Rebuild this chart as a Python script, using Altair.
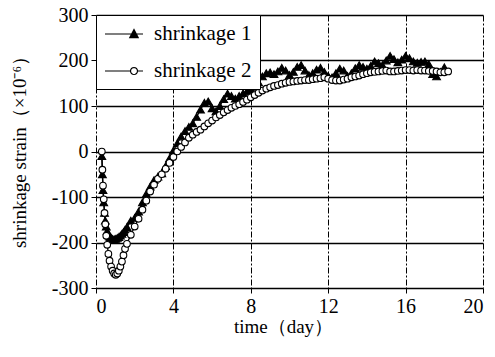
import math
import altair as alt
import pandas as pd

# Shrinkage strain readings (x10^-6) against age in days
t1 = [0.30, 0.33, 0.36, 0.40, 0.44, 0.48, 0.53, 0.58, 0.64, 0.70, 0.78, 0.86, 0.94,
      1.02, 1.10, 1.18, 1.26, 1.34, 1.42, 1.50,
      1.6, 1.8, 2.0, 2.2, 2.4, 2.6, 2.8, 3.0, 3.2, 3.4, 3.6, 3.8, 4.0, 4.2, 4.4, 4.6,
      4.8, 5.0, 5.2, 5.4, 5.6, 5.8, 6.0, 6.2, 6.4, 6.6, 6.8, 7.0, 7.2, 7.4, 7.6, 7.8,
      8.0, 8.2, 8.4, 8.6, 8.8, 9.0, 9.2, 9.4, 9.6, 9.8, 10.0, 10.2, 10.4, 10.6, 10.8,
      11.0, 11.2, 11.4, 11.6, 11.8, 12.0, 12.2, 12.4, 12.6, 12.8, 13.0, 13.2, 13.4,
      13.6, 13.8, 14.0, 14.2, 14.4, 14.6, 14.8, 15.0, 15.2, 15.4, 15.6, 15.8, 16.0,
      16.2, 16.4, 16.6, 16.8, 17.0, 17.2, 17.4, 17.6, 17.8, 18.0]
s1 = [-10, -50, -85, -112, -135, -152, -165, -175, -182, -187, -190, -192, -193,
      -192, -190, -188, -185, -181, -177, -172,
      -166, -152, -146, -132, -112, -93, -77, -63, -55, -48, -32, -15, 2, 18, 33, 45,
      54, 62, 76, 92, 107, 110, 95, 88, 100, 115, 127, 122, 116, 122, 128, 132,
      136, 142, 152, 165, 172, 174, 170, 176, 184, 178, 168, 175, 186, 190, 178,
      168, 172, 180, 184, 175, 166, 163, 172, 182, 178, 166, 172, 183,
      190, 186, 182, 188, 198, 194, 190, 200, 210, 203, 196, 202, 210,
      205, 198, 195, 197, 198, 192, 170, 165, 175, 185]

t2 = [0.30, 0.33, 0.36, 0.40, 0.44, 0.48, 0.53, 0.58, 0.64, 0.70, 0.78, 0.86, 0.94,
      1.02, 1.10, 1.18, 1.26, 1.34, 1.42, 1.50,
      1.6, 1.8, 2.0, 2.2, 2.4, 2.6, 2.8, 3.0, 3.2, 3.4, 3.6, 3.8, 4.0, 4.2, 4.4, 4.6,
      4.8, 5.0, 5.2, 5.4, 5.6, 5.8, 6.0, 6.2, 6.4, 6.6, 6.8, 7.0, 7.2, 7.4, 7.6, 7.8,
      8.0, 8.2, 8.4, 8.6, 8.8, 9.0, 9.2, 9.4, 9.6, 9.8, 10.0, 10.2, 10.4, 10.6, 10.8,
      11.0, 11.2, 11.4, 11.6, 11.8, 12.0, 12.2, 12.4, 12.6, 12.8, 13.0, 13.2, 13.4,
      13.6, 13.8, 14.0, 14.2, 14.4, 14.6, 14.8, 15.0, 15.2, 15.4, 15.6, 15.8, 16.0,
      16.2, 16.4, 16.6, 16.8, 17.0, 17.2, 17.4, 17.6, 17.8, 18.0, 18.2]
s2 = [0, -40, -75, -105, -135, -160, -185, -205, -225, -240, -253, -262, -268,
      -271, -268, -262, -253, -242, -228, -214,
      -203, -183, -165, -148, -128, -108, -88, -73, -60, -50, -38, -25, -12, 0, 10, 20,
      30, 37, 43, 48, 55, 62, 68, 75, 80, 86, 91, 96, 100, 104, 109, 114,
      119, 124, 129, 134, 138, 141, 144, 146, 149, 151, 153, 154, 155, 156, 157,
      157, 159, 160, 161, 163, 160, 157, 156, 156, 158, 160, 163, 165,
      167, 170, 172, 174, 175, 176, 177, 178, 176, 176, 177, 178, 179,
      179, 178, 179, 178, 178, 177, 177, 176, 174, 174, 176]

series_names = ["shrinkage 1", "shrinkage 2"]
x_ticks = [0, 4, 8, 12, 16, 20]
y_ticks = [-300, -200, -100, 0, 100, 200, 300]

df = pd.concat([
    pd.DataFrame({"time": t1, "strain": s1, "series": series_names[0]}),
    pd.DataFrame({"time": t2, "strain": s2, "series": series_names[1]}),
], ignore_index=True)
df["order"] = range(len(df))

FONT = "Liberation Serif"

x_enc = alt.X("time:Q", scale=alt.Scale(domain=[0, 20], nice=False),
              axis=alt.Axis(values=x_ticks, title="time（day）", grid=True,
                            gridDash=[6, 2, 2, 2], gridColor="black", gridWidth=1,
                            titleX=187, titleY=29, titleAlign="center",
                            titleBaseline="top"))
y_enc = alt.Y("strain:Q", scale=alt.Scale(domain=[-300, 300], nice=False),
              axis=alt.Axis(values=y_ticks, title="shrinkage strain（×10⁻⁶）",
                            grid=True, gridColor="black", gridWidth=1.7,
                            labelExpr="'' + datum.value", titlePadding=22,
                            titleY=132, titleAlign="center"))

# legend glyphs (unit = 10 px): a line segment with the series marker on it
def tri(cx, half):
    return (f"M{cx - half:.3f},{0.85 * half:.3f}L{cx:.3f},{-1.05 * half:.3f}"
            f"L{cx + half:.3f},{0.85 * half:.3f}Z")

tri_path = "M-1,0H2.8" + tri(1.9, 0.42) + tri(1.9, 0.28) + tri(1.9, 0.14)
ring = [(1.9 + 0.35 * math.cos(2 * math.pi * k / 16),
         0.35 * math.sin(2 * math.pi * k / 16)) for k in range(16)]
circ_path = ("M-1,0H1.55M2.25,0H2.8M"
             + "L".join(f"{px:.3f},{py:.3f}" for px, py in ring) + "Z")

lines = alt.Chart(df).mark_line(color="black", strokeWidth=1.3).encode(
    x=x_enc, y=y_enc, detail="series:N", order="order:Q"
)

points = alt.Chart(df).mark_point(stroke="black", strokeWidth=1.1, opacity=1,
                                  fillOpacity=1).encode(
    x=x_enc, y=y_enc,
    shape=alt.Shape("series:N", legend=None,
                    scale=alt.Scale(domain=series_names, range=["triangle-up", "circle"])),
    fill=alt.Fill("series:N", legend=None,
                  scale=alt.Scale(domain=series_names, range=["black", "white"])),
    size=alt.Size("series:N", legend=None,
                  scale=alt.Scale(domain=series_names, range=[60, 44])),
    order="order:Q",
)

legend_layer = alt.Chart(df).mark_point(stroke="black", strokeWidth=1.2, filled=True,
                                        opacity=0, size=1).encode(
    x=x_enc, y=y_enc,
    fill=alt.Fill("series:N", title=None,
                  scale=alt.Scale(domain=series_names, range=["black", "white"]),
                  legend=alt.Legend(
                      orient="none", legendX=0, legendY=0,
                      symbolSize=400, symbolStrokeWidth=1.2, symbolOpacity=1,
                      labelFont=FONT, labelFontSize=21, labelColor="black",
                      labelOffset=28, rowPadding=16, padding=8,
                      strokeColor="black", fillColor="white")),
    shape=alt.Shape("series:N", title=None,
                    scale=alt.Scale(domain=series_names, range=[tri_path, circ_path])),
)

chart = (lines + points + legend_layer).resolve_scale(
    shape="independent", fill="independent", size="independent"
).properties(
    width=387, height=273,
    autosize=alt.AutoSizeParams(type="none"),
    padding={"left": 96, "top": 15, "right": 12, "bottom": 69},
    background="white",
).configure(font=FONT).configure_view(stroke=None).configure_axis(
    domain=False, ticks=True, tickColor="black", tickSize=5, tickWidth=1,
    labelFont=FONT, labelFontSize=20, labelColor="black", labelPadding=3,
    titleFont=FONT, titleFontSize=19, titleFontWeight="normal", titleColor="black",
).configure_legend(labelFont=FONT)

chart.save("out.html", embed_options={"renderer": "svg", "actions": False})
